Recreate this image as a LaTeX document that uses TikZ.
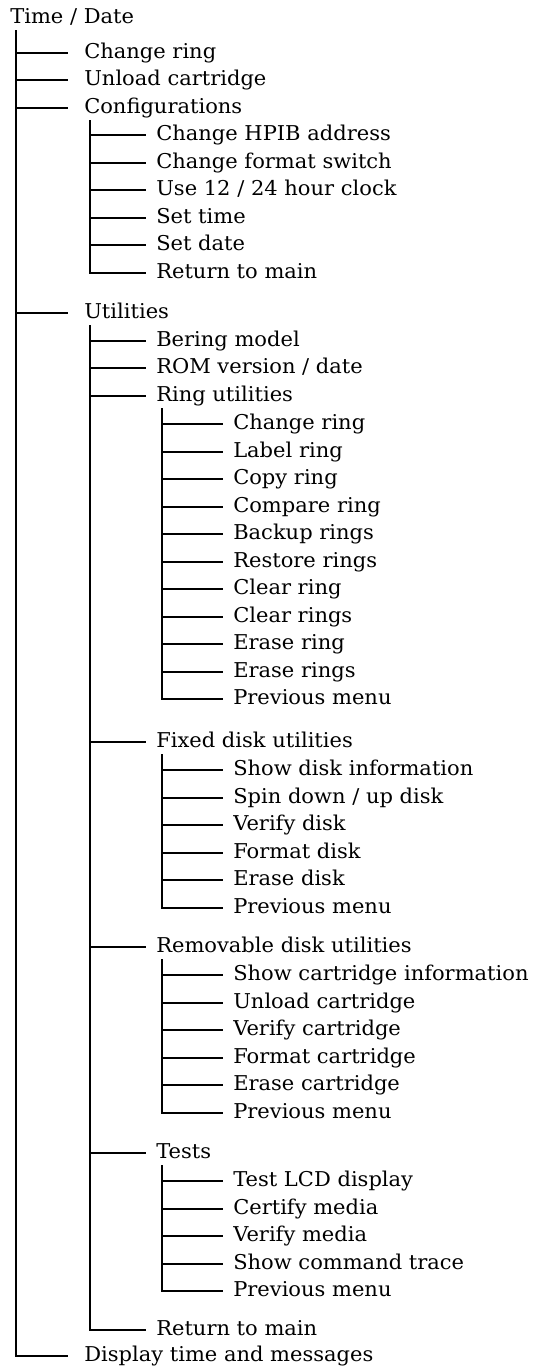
\documentclass[tikz,border=0pt]{standalone}
\usepackage{fontspec}
\setmainfont{DejaVu Serif}[FakeStretch=1.03]

\tikzset{
  menu/.style={anchor=west, inner xsep=7.5pt, inner ysep=0pt,
    text height=0.8em, text depth=0pt, font=\fontsize{15.3}{18}\selectfont},
  mainitem/.style={menu, inner xsep=12pt},
  branch/.style={line width=1.6pt}
}

\begin{document}
\begin{tikzpicture}[x=0.75pt, y=-0.75pt]
\useasboundingbox (0,0) rectangle (533,1370);
% main menu
\node[menu, inner xsep=0pt] (tdate) at (10,18) {Time / Date};
\foreach \n/\t/\y in {chr/Change ring/53, unl/Unload cartridge/80,
    cfg/Configurations/108, utl/Utilities/313,
    dsp/Display time and messages/1356}
  \node[mainitem] (\n) at (68,\y) {\t};
% configurations
\foreach \n/\t [count=\i from 0] in {hpib/Change HPIB address,
    fsw/Change format switch, clk/{Use 12 / 24 hour clock},
    stime/Set time, sdate/Set date, cret/Return to main}
  \node[menu] (\n) at (146,{round(135+27.5*\i)}) {\t};
% utilities
\foreach \n/\t/\y in {bmod/Bering model/341, rom/{ROM version / date}/368,
    ring/Ring utilities/396, fixed/Fixed disk utilities/742,
    remov/Removable disk utilities/947, tests/Tests/1153,
    uret/Return to main/1330}
  \node[menu] (\n) at (146,\y) {\t};
% ring utilities
\foreach \n/\t [count=\i from 0] in {rchg/Change ring, rlbl/Label ring,
    rcpy/Copy ring, rcmp/Compare ring, rbak/Backup rings,
    rres/Restore rings, rclr/Clear ring, rclrs/Clear rings,
    rers/Erase ring, rerss/Erase rings, rprev/Previous menu}
  \node[menu] (\n) at (223,{round(424+27.5*\i)}) {\t};
% fixed disk utilities
\foreach \n/\t [count=\i from 0] in {fshow/Show disk information,
    fspin/{Spin down / up disk}, fver/Verify disk, ffmt/Format disk,
    fers/Erase disk, fprev/Previous menu}
  \node[menu] (\n) at (223,{round(770+27.5*\i)}) {\t};
% removable disk utilities
\foreach \n/\t [count=\i from 0] in {mshow/Show cartridge information,
    munl/Unload cartridge, mver/Verify cartridge, mfmt/Format cartridge,
    mers/Erase cartridge, mprev/Previous menu}
  \node[menu] (\n) at (223,{round(975+27.5*\i)}) {\t};
% tests
\foreach \n/\t [count=\i from 0] in {tlcd/Test LCD display,
    tcert/Certify media, tver/Verify media, tcmd/Show command trace,
    tprev/Previous menu}
  \node[menu] (\n) at (223,{round(1181+27.5*\i)}) {\t};
% branches
\foreach \p/\cs in {tdate/{chr,unl,cfg,utl,dsp},
    cfg/{hpib,fsw,clk,stime,sdate,cret},
    utl/{bmod,rom,ring,fixed,remov,tests,uret},
    ring/{rchg,rlbl,rcpy,rcmp,rbak,rres,rclr,rclrs,rers,rerss,rprev},
    fixed/{fshow,fspin,fver,ffmt,fers,fprev},
    remov/{mshow,munl,mver,mfmt,mers,mprev},
    tests/{tlcd,tcert,tver,tcmd,tprev}} {
  \coordinate (\p-s) at ([shift={(6,7)}]\p.text);
  \foreach \c in \cs
    \draw[branch] (\p-s) |- (\c.west);
}
\end{tikzpicture}
\end{document}
